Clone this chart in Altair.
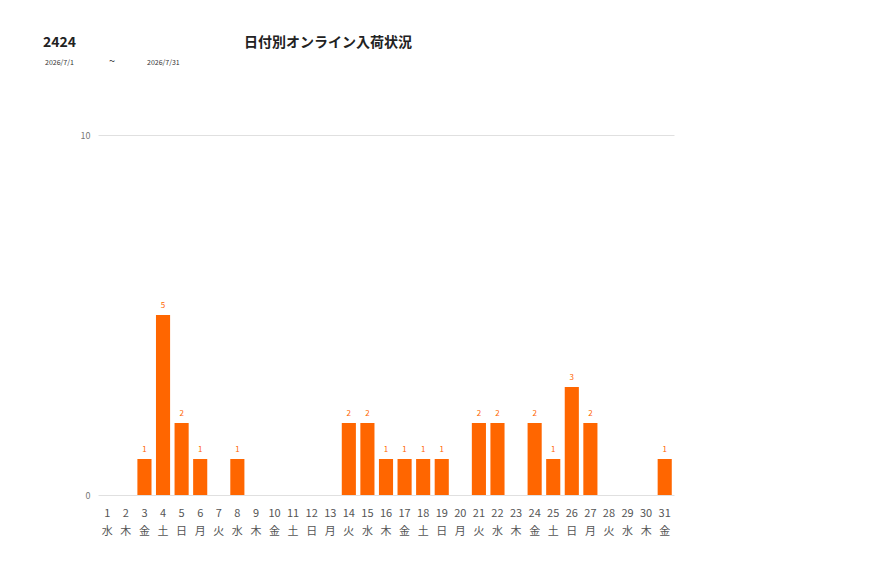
import altair as alt
import pandas as pd

days = [str(d) for d in range(1, 32)]
weekdays = ["水","木","金","土","日","月","火"] * 4 + ["水","木","金"]
values = [0,0,1,5,2,1,0,1,0,0,0,0,0,2,2,1,1,1,1,0,2,2,0,2,1,3,2,0,0,0,1]

df = pd.DataFrame({
    "day": days,
    "label": [f"{d}\n{w}" for d, w in zip(days, weekdays)],
    "value": values,
})

FONT = "Noto Sans CJK JP"
ORANGE = "#FF6600"

x = alt.X("label:N", sort=None, title=None,
          scale=alt.Scale(paddingInner=0.24, paddingOuter=0.12),
          axis=alt.Axis(labelAngle=0, ticks=False, domain=False,
                        labelExpr="split(datum.label, '\\n')",
                        labelFontSize=11, labelColor="#555555",
                        labelLineHeight=18, labelPadding=12, labelFont=FONT))
y = alt.Y("value:Q", title=None,
          scale=alt.Scale(domain=[0, 10]),
          axis=alt.Axis(values=[0, 10], ticks=False, domain=False,
                        labelFontSize=9, labelColor="#777777", labelPadding=8,
                        gridColor="#e0e0e0", labelFont=FONT))

bars = alt.Chart(df).mark_bar(color=ORANGE).encode(x=x, y=y)
texts = alt.Chart(df).transform_filter("datum.value > 0").mark_text(
    color=ORANGE, fontSize=8, baseline="bottom", dy=-5, font=FONT
).encode(x=x, y=y, text="value:Q")

title_df = pd.DataFrame({"t": ["2424"]})
t1 = alt.Chart(title_df).mark_text(fontSize=14, fontWeight="bold", align="left",
                                   font=FONT, color="#222222").encode(
    x=alt.value(-55), y=alt.value(-92), text="t:N")
main_df = pd.DataFrame({"t": ["日付別オンライン入荷状況"]})
t2 = alt.Chart(main_df).mark_text(fontSize=14, fontWeight="bold", align="center",
                                  font=FONT, color="#222222").encode(
    x=alt.value(230), y=alt.value(-92), text="t:N")
d1 = alt.Chart(pd.DataFrame({"t": ["2026/7/1"]})).mark_text(
    fontSize=7, align="left", font=FONT, color="#333333").encode(
    x=alt.value(-53), y=alt.value(-72), text="t:N")
d2 = alt.Chart(pd.DataFrame({"t": ["~"]})).mark_text(
    fontSize=11, align="center", font=FONT, color="#333333").encode(
    x=alt.value(14), y=alt.value(-73), text="t:N")
d3 = alt.Chart(pd.DataFrame({"t": ["2026/7/31"]})).mark_text(
    fontSize=7, align="left", font=FONT, color="#333333").encode(
    x=alt.value(49), y=alt.value(-72), text="t:N")

chart = alt.layer(bars, texts, t1, t2, d1, d2, d3).properties(
    width=576, height=360,
    autosize=alt.AutoSizeParams(type="none"),
    padding={"left": 90, "top": 127, "right": 10, "bottom": 60},
).configure_view(stroke=None)

chart.save("out.html", embed_options={"renderer": "svg", "actions": False})
